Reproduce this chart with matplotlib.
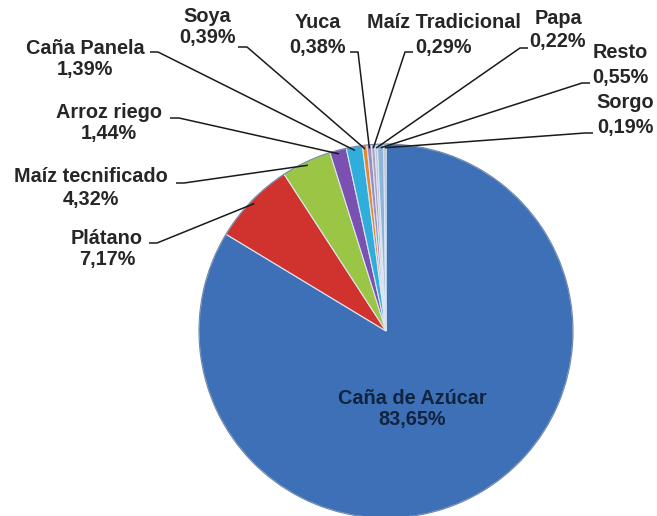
import numpy as np
import matplotlib
matplotlib.use('Agg')
import matplotlib.pyplot as plt

# ---------------------------------------------------------------------
# Datos
# ---------------------------------------------------------------------
cultivos = ['Caña de Azúcar', 'Plátano', 'Maíz tecnificado', 'Arroz riego',
            'Caña Panela', 'Soya', 'Yuca', 'Maíz Tradicional', 'Papa',
            'Resto', 'Sorgo']
porcentajes = [83.65, 7.17, 4.32, 1.44, 1.39, 0.39, 0.38, 0.29, 0.22, 0.55, 0.19]
colores = ['#3E70B8', '#D0332E', '#9BC544', '#7A50B0', '#2FAEDB', '#E8862E',
           '#9B8CC4', '#A9A2BC', '#BCC6D8', '#8FB4D9', '#A9B0B8']

# ---------------------------------------------------------------------
# Layout (pixeles, y desde arriba)
# ---------------------------------------------------------------------
W, H = 657, 516
centro = (386, 331)
radio = 187
# (x texto, y nombre, y porcentaje)
pos_etiquetas = [(412, 398, 420), (107, 239, 260), (91, 177, 200),
                 (109, 113, 134), (85, 48, 69), (207, 17, 38),
                 (318, 22, 47), (444, 22, 47), (558, 18, 42),
                 (620, 53, 78), (625, 103, 127)]
# inicio de la linea guia (x, y, tramo horizontal)
anclas = [None, (149, 243, 8), (176, 183, 8), (170, 118, 9), (150, 52, 8),
          (238, 47, 9), (350, 52, 8), (413, 52, -8), (528, 48, -8),
          (590, 83, -8), (593, 133, -8)]

fig = plt.figure(figsize=(W / 100, H / 100), dpi=100)
ax = fig.add_axes([0, 0, 1, 1])

cuñas, _ = ax.pie(porcentajes, colors=colores, startangle=90, counterclock=False,
                  center=(centro[0], H - centro[1]), radius=radio,
                  wedgeprops=dict(edgecolor='#dce6f2', linewidth=0.8))
# borde exterior oscuro
ax.add_patch(plt.Circle((centro[0], H - centro[1]), radio, fill=False,
                        edgecolor='#2a4a78', linewidth=0.8, alpha=0.6))
ax.set_xlim(0, W)
ax.set_ylim(0, H)
ax.set_aspect('equal')
ax.axis('off')

fuente = dict(family='Liberation Sans', fontweight='bold', fontsize=14.3,
              ha='center', va='center')

for i, (nombre, valor) in enumerate(zip(cultivos, porcentajes)):
    x, yn, yp = pos_etiquetas[i]
    pct = f"{valor:.2f}".replace('.', ',') + '%'
    color_txt = '#10233F' if i == 0 else '#262626'
    ax.text(x, H - yn, nombre, color=color_txt, **fuente)
    ax.text(x, H - yp, pct, color=color_txt, **fuente)

    if anclas[i] is None:
        continue
    w = cuñas[i]
    ang = np.deg2rad((w.theta1 + w.theta2) / 2)
    px = centro[0] + radio * 0.98 * np.cos(ang)
    py = (H - centro[1]) + radio * 0.98 * np.sin(ang)
    ax_, ay_, dx = anclas[i]
    ax.plot([ax_, ax_ + dx, px], [H - ay_, H - ay_, py], color='#1a1a1a',
            linewidth=1.1, solid_capstyle='butt')

fig.savefig('out.png', dpi=100)
